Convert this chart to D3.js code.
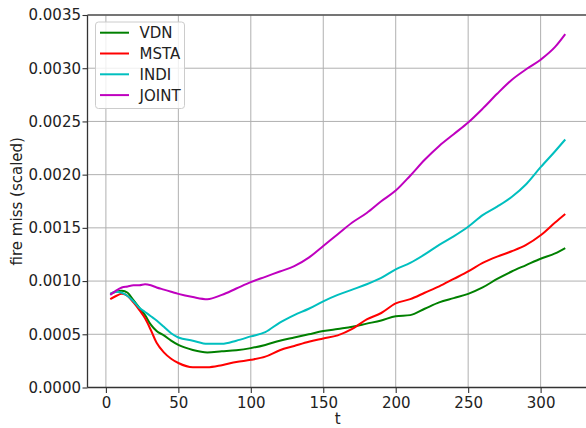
<!DOCTYPE html>
<html>
<head>
<meta charset="utf-8">
<script src="https://cdn.jsdelivr.net/npm/d3@7"></script>
<style>
  body { margin: 0; background: #fff; }
  svg { display: block; font-family: "DejaVu Sans", sans-serif; }
</style>
</head>
<body>
<div id="chart"></div>
<script>
// time steps the values were read at
const tValues = [3, 7, 11, 15, 19, 23, 27, 31, 35, 40, 45, 50, 60, 70, 80, 90, 100, 110, 120, 130,
  140, 150, 160, 170, 180, 190, 200, 210, 220, 230, 240, 250, 260, 270, 280, 290, 300, 310, 317];

const vdn = [0.00088, 0.00090, 0.00091, 0.00089, 0.00082, 0.00075, 0.00068, 0.00059, 0.00053, 0.00049,
  0.00044, 0.00040, 0.000353, 0.00033, 0.00034, 0.00035, 0.00037, 0.00040, 0.00044, 0.00047,
  0.00050, 0.00053, 0.00055, 0.00057, 0.00060, 0.00063, 0.00067, 0.00068, 0.00074, 0.00080,
  0.00084, 0.00088, 0.00094, 0.00102, 0.00109, 0.00115, 0.00121, 0.00126, 0.00131];

const msta = [0.00083, 0.00086, 0.00088, 0.00086, 0.00080, 0.00073, 0.00065, 0.00054, 0.00042, 0.00033,
  0.00027, 0.00023, 0.00019, 0.00019, 0.00021, 0.00024, 0.00026, 0.00029, 0.00035, 0.00039,
  0.00043, 0.00046, 0.00049, 0.00055, 0.00064, 0.00070, 0.00079, 0.00083, 0.00089, 0.00095,
  0.00102, 0.00109, 0.00117, 0.00123, 0.00128, 0.00134, 0.00143, 0.00155, 0.00163];

const indi = [0.00088, 0.00090, 0.00089, 0.00086, 0.00081, 0.00075, 0.00071, 0.00067, 0.00063, 0.00057,
  0.00051, 0.00047, 0.00044, 0.00041, 0.00041, 0.00044, 0.00048, 0.00052, 0.00061, 0.00068,
  0.00074, 0.00081, 0.00087, 0.00092, 0.00097, 0.00103, 0.00111, 0.00117, 0.00125, 0.00134,
  0.00142, 0.00151, 0.00162, 0.00170, 0.00179, 0.00191, 0.00207, 0.00222, 0.00233];

const joint = [0.00087, 0.00091, 0.00094, 0.00095, 0.00096, 0.00096, 0.00097, 0.00096, 0.00094, 0.00092,
  0.00090, 0.00088, 0.00085, 0.00083, 0.00087, 0.00093, 0.00099, 0.00104, 0.00109, 0.00114,
  0.00122, 0.00133, 0.00144, 0.00155, 0.00164, 0.00175, 0.00185, 0.00199, 0.00214, 0.00227,
  0.00238, 0.00249, 0.00262, 0.00276, 0.00289, 0.00299, 0.00308, 0.00320, 0.00332];

const seriesNames = ["VDN", "MSTA", "INDI", "JOINT"];
const seriesValues = [vdn, msta, indi, joint];
const seriesColors = ["#008000", "#ff0000", "#00bfbf", "#bf00bf"];

const xTicks = [0, 50, 100, 150, 200, 250, 300];
const yTicks = [0, 0.0005, 0.001, 0.0015, 0.002, 0.0025, 0.003, 0.0035];

const W = 586, H = 428;
const margin = { top: 15, right: -2, bottom: 40.5, left: 87.5 },
    width = W - margin.left - margin.right,
    height = H - margin.top - margin.bottom;

const fontSize = "15px";

const svgRoot = d3.select("#chart")
    .append("svg")
    .attr("width", W)
    .attr("height", H);

const svg = svgRoot.append("g")
    .attr("transform", `translate(${margin.left},${margin.top})`);

const x = d3.scaleLinear().domain([-12.7, 332.7]).range([0, width]);
const y = d3.scaleLinear().domain([0, 0.0035]).range([height, 0]);

// grid
svg.append("g")
    .selectAll("line")
    .data(xTicks)
    .join("line")
    .attr("x1", d => x(d)).attr("x2", d => x(d))
    .attr("y1", 0).attr("y2", height)
    .attr("stroke", "#b0b0b0").attr("stroke-width", 1);

svg.append("g")
    .selectAll("line")
    .data(yTicks)
    .join("line")
    .attr("x1", 0).attr("x2", width)
    .attr("y1", d => y(d)).attr("y2", d => y(d))
    .attr("stroke", "#b0b0b0").attr("stroke-width", 1);

// lines
const lineGen = d3.line()
    .x(d => x(d[0]))
    .y(d => y(d[1]))
    .curve(d3.curveMonotoneX);

seriesValues.forEach((vals, i) => {
    svg.append("path")
        .datum(tValues.map((t, j) => [t, vals[j]]))
        .attr("fill", "none")
        .attr("stroke", seriesColors[i])
        .attr("stroke-width", 2)
        .attr("stroke-linejoin", "round")
        .attr("d", lineGen);
});

// axes
const xAxis = svg.append("g")
    .attr("transform", `translate(0,${height})`)
    .call(d3.axisBottom(x).tickValues(xTicks).tickSize(5.5).tickPadding(4.5).tickSizeOuter(0));

const yAxis = svg.append("g")
    .call(d3.axisLeft(y).tickValues(yTicks).tickFormat(d3.format(".4f")).tickSize(5).tickPadding(1.5).tickSizeOuter(0));

[xAxis, yAxis].forEach(ax => {
    ax.select(".domain").remove();
    ax.selectAll(".tick line").attr("stroke", "#333").attr("stroke-width", 1.1);
    ax.selectAll("text")
        .style("font-family", "DejaVu Sans")
        .style("font-size", fontSize)
        .attr("fill", "#222");
});

// spines (top, left, bottom)
svg.append("line").attr("x1", 0).attr("x2", 0).attr("y1", 0).attr("y2", height)
    .attr("stroke", "#333").attr("stroke-width", 1.3);
svg.append("line").attr("x1", 0).attr("x2", width).attr("y1", height).attr("y2", height)
    .attr("stroke", "#333").attr("stroke-width", 1.3);
svg.append("line").attr("x1", 0).attr("x2", width).attr("y1", 0).attr("y2", 0)
    .attr("stroke", "#555").attr("stroke-width", 1.3);

// axis labels
svg.append("text")
    .attr("x", width / 2)
    .attr("y", height + 36.5)
    .attr("text-anchor", "middle")
    .style("font-size", fontSize)
    .attr("fill", "#222")
    .text("t");

svg.append("text")
    .attr("transform", "rotate(-90)")
    .attr("x", -height / 2)
    .attr("y", -65.5)
    .attr("text-anchor", "middle")
    .style("font-size", fontSize)
    .attr("fill", "#222")
    .text("fire miss (scaled)");

// legend
const legend = svg.append("g").attr("transform", "translate(8,7)");
legend.append("rect")
    .attr("width", 89).attr("height", 86.5)
    .attr("rx", 3)
    .attr("fill", "#fff").attr("fill-opacity", 0.8)
    .attr("stroke", "#ccc").attr("stroke-width", 1);

seriesNames.forEach((name, i) => {
    const g = legend.append("g").attr("transform", `translate(0,${10.7 + i * 20.8})`);
    g.append("line")
        .attr("x1", 4.5).attr("x2", 33.5)
        .attr("stroke", seriesColors[i]).attr("stroke-width", 2);
    g.append("text")
        .attr("x", 44)
        .attr("y", 5.4)
        .style("font-size", fontSize)
        .attr("fill", "#222")
        .text(name);
});
</script>
</body>
</html>
